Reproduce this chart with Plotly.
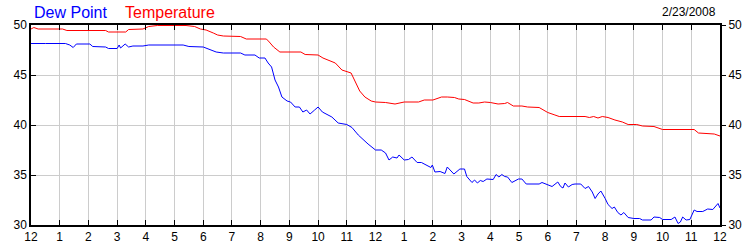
import plotly.graph_objects as go

# hours since midnight
temp_hours = [0, 0.1, 0.25, 1.1, 1.25, 2.6, 2.7, 3.3, 3.4, 3.9, 4.1, 4.4, 5.4, 5.7, 5.9, 6.1,
              6.35, 6.5, 6.7, 7.3, 7.5, 8.2, 8.3, 8.45, 8.67, 9.4, 9.55, 10.0, 10.17, 10.4,
              10.6, 10.83, 11.15, 11.3, 11.45, 11.63, 11.85, 12.0, 12.35, 12.68, 13.0, 13.5,
              13.7, 14.0, 14.3, 14.5, 14.75, 14.9, 15.1, 15.4, 15.6, 15.8, 16.0, 16.27, 16.5,
              16.6, 16.8, 17.1, 17.3, 17.7, 18.0, 18.25, 18.4, 19.3, 19.45, 19.6, 19.75, 19.9,
              20.1, 20.34, 20.6, 20.8, 21.1, 21.3, 21.7, 22.0, 23.1, 23.25, 23.8, 24.0]
temperature = [49.6, 49.75, 49.6, 49.6, 49.45, 49.45, 49.3, 49.3, 49.55, 49.6, 49.85, 49.95,
               49.95, 49.85, 49.6, 49.5, 49.2, 49.0, 48.9, 48.85, 48.6, 48.6, 48.3, 47.8, 47.3,
               47.3, 47.05, 47.0, 46.7, 46.45, 46.2, 45.5, 45.2, 44.3, 43.4, 42.8, 42.4, 42.3,
               42.25, 42.1, 42.3, 42.3, 42.5, 42.5, 42.8, 42.8, 42.75, 42.6, 42.55, 42.2, 42.2,
               42.3, 42.25, 42.1, 42.15, 42.25, 41.9, 41.9, 41.8, 41.75, 41.25, 41.0, 40.85,
               40.85, 40.75, 40.85, 40.7, 40.85, 40.75, 40.5, 40.3, 40.05, 40.05, 39.9, 39.85,
               39.55, 39.55, 39.2, 39.1, 38.9]

dew_hours = [0, 0.4, 0.5, 1.2, 1.35, 1.47, 1.58, 2.05, 2.15, 2.6, 2.7, 3.0, 3.07, 3.12, 3.28,
             3.4, 3.55, 3.9, 4.1, 5.3, 5.5, 6.0, 6.25, 6.45, 6.7, 7.3, 7.45, 7.8, 7.95, 8.15,
             8.26, 8.38, 8.5, 8.62, 8.74, 8.92, 9.04, 9.2, 9.35, 9.47, 9.6, 9.72, 9.88, 10.0,
             10.15, 10.48, 10.7, 11.0, 11.18, 11.4, 11.74, 12.0, 12.2, 12.35, 12.47, 12.6,
             12.75, 12.82, 13.0, 13.15, 13.27, 13.45, 13.6, 13.76, 13.93, 13.98, 14.07, 14.25,
             14.42, 14.5, 14.6, 14.73, 14.94, 15.1, 15.18, 15.36, 15.45, 15.55, 15.65, 15.75,
             15.88, 16.1, 16.2, 16.3, 16.4, 16.5, 16.6, 16.75, 16.98, 17.1, 17.25, 17.7, 17.8,
             18.05, 18.15, 18.35, 18.45, 18.53, 18.6, 18.72, 18.85, 18.95, 19.15, 19.3, 19.42,
             19.55, 19.65, 19.75, 19.85, 20.0, 20.1, 20.24, 20.32, 20.44, 20.55, 20.65, 20.8,
             21.0, 21.2, 21.3, 21.6, 21.7, 21.9, 22.0, 22.3, 22.43, 22.54, 22.62, 22.7, 22.82,
             22.95, 23.1, 23.2, 23.4, 23.57, 23.75, 23.93, 24.0]
dew_point = [48.15, 48.2, 48.15, 48.15, 48.0, 47.75, 48.1, 48.1, 47.85, 47.8, 47.65, 47.65,
             48.0, 47.7, 48.1, 47.8, 47.9, 47.9, 48.0, 48.0, 47.85, 47.8, 47.5, 47.3, 47.2,
             47.2, 47.0, 47.0, 46.7, 46.7, 46.2, 45.8, 44.5, 43.8, 42.8, 42.4, 42.3, 41.8,
             41.8, 41.3, 41.5, 41.1, 41.5, 41.8, 41.3, 40.8, 40.2, 40.05, 39.75, 39.0, 38.1,
             37.5, 37.5, 37.2, 36.5, 36.8, 36.7, 37.0, 36.5, 36.55, 36.8, 36.25, 36.25, 36.0,
             35.75, 36.0, 35.3, 35.35, 35.15, 35.8, 35.5, 35.1, 35.6, 35.6, 34.85, 34.25, 34.5,
             34.2, 34.45, 34.35, 34.6, 34.55, 35.05, 34.8, 35.05, 34.85, 34.8, 34.25, 34.6,
             34.6, 34.1, 34.1, 34.25, 34.0, 33.85, 34.3, 33.85, 33.7, 34.2, 33.8, 34.05, 34.1,
             34.1, 33.65, 33.85, 33.3, 32.65, 33.1, 33.4, 32.65, 32.05, 31.65, 31.8, 31.25,
             31.0, 31.25, 30.75, 30.65, 30.65, 30.5, 30.5, 30.8, 30.75, 30.55, 30.55, 30.8,
             30.15, 30.3, 30.8, 30.5, 30.55, 31.5, 31.35, 31.35, 31.6, 31.55, 32.15, 31.7]

hour_ticks = list(range(0, 25))
hour_labels = ["12", "1", "2", "3", "4", "5", "6", "7", "8", "9", "10", "11",
               "12", "1", "2", "3", "4", "5", "6", "7", "8", "9", "10", "11", "12"]
y_ticks = [30, 35, 40, 45, 50]
date_text = "2/23/2008"

FONT = "Liberation Sans, Arial, sans-serif"
GRID = "#cccccc"

fig = go.Figure()
fig.add_trace(go.Scatter(x=dew_hours, y=dew_point, mode="lines", name="Dew Point",
                         line=dict(color="#0000ff", width=1), showlegend=False))
fig.add_trace(go.Scatter(x=temp_hours, y=temperature, mode="lines", name="Temperature",
                         line=dict(color="#ff0000", width=1), showlegend=False))
# invisible trace so the right-hand axis renders
fig.add_trace(go.Scatter(x=[0], y=[30], yaxis="y2", mode="lines", showlegend=False,
                         hoverinfo="skip", line=dict(color="rgba(0,0,0,0)")))

fig.update_layout(
    width=750, height=250,
    margin=dict(l=31, r=30, t=25, b=25),
    paper_bgcolor="white", plot_bgcolor="white",
    font=dict(family=FONT, size=12, color="#000000"),
    xaxis=dict(range=[0, 24], tickmode="array", tickvals=hour_ticks, ticktext=hour_labels,
               showgrid=True, gridcolor=GRID, gridwidth=1, zeroline=False, automargin=False,
               showline=True, linecolor="black", linewidth=1.5, mirror="ticks",
               ticks="inside", ticklen=5, tickcolor="black", tickfont=dict(size=12)),
    yaxis=dict(range=[30, 50], tickmode="array", tickvals=y_ticks, automargin=False,
               showgrid=True, gridcolor=GRID, gridwidth=1, zeroline=False,
               showline=True, linecolor="black", linewidth=1.5, mirror=True,
               ticks="inside", ticklen=5, tickcolor="black", tickfont=dict(size=12)),
    yaxis2=dict(range=[30, 50], tickmode="array", tickvals=y_ticks, overlaying="y",
                side="right", showgrid=False, zeroline=False, showline=False, automargin=False,
                ticks="outside", ticklen=5, tickcolor="black", tickfont=dict(size=12)),
    annotations=[
        dict(text="Dew Point", xref="paper", yref="paper", x=0.002, y=1.065,
             xanchor="left", yanchor="middle", showarrow=False,
             font=dict(family=FONT, size=16, color="#0000ff")),
        dict(text="Temperature", xref="paper", yref="paper", x=0.133, y=1.065,
             xanchor="left", yanchor="middle", showarrow=False,
             font=dict(family=FONT, size=16, color="#ff0000")),
        dict(text=date_text, xref="paper", yref="paper", x=0.997, y=1.065,
             xanchor="right", yanchor="middle", showarrow=False,
             font=dict(family=FONT, size=12, color="#000000")),
    ],
)

fig.write_html("out.html")
